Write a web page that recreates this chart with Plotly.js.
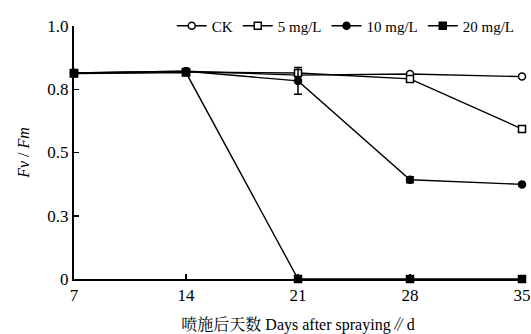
<!DOCTYPE html>
<html>
<head>
<meta charset="utf-8">
<script src="https://cdn.plot.ly/plotly-3.0.1.min.js"></script>
<style>html,body{margin:0;padding:0;background:#fff;}#chart{width:531px;height:334px;}</style>
</head>
<body>
<div id="chart"></div>
<script>
var days = [7, 14, 21, 28, 35];
var seriesNames = ["CK", "5 mg/L", "10 mg/L", "20 mg/L"];
var ck = [0.814, 0.821, 0.806, 0.810, 0.800];
var mg5 = [0.814, 0.818, 0.814, 0.791, 0.593];
var mg10 = [0.814, 0.821, 0.783, 0.392, 0.374];
var mg20 = [0.812, 0.816, 0, 0, 0];
var err10 = [0.004, 0.004, 0.053, 0.012, 0.006];
var yTickVals = [0, 0.25, 0.5, 0.75, 1.0];
var yTickText = ["0", "0.3", "0.5", "0.8", "1.0"];
var xTickVals = [7, 14, 21, 28, 35];

var fontFam = "'Liberation Serif', 'Noto Serif CJK SC', 'Noto Sans CJK SC', serif";
function tr(name, y, sym, fill, err) {
  var t = {
    x: days, y: y, name: name, type: 'scatter', mode: 'lines+markers',
    cliponaxis: false,
    line: {color: '#000', width: 1.4},
    marker: {symbol: sym, size: 7, color: fill, line: {color: '#000', width: 1.5}}
  };
  if (err) t.error_y = {type: 'data', array: err, visible: true, color: '#000', thickness: 1.5, width: 4};
  return t;
}
var data = [
  tr(seriesNames[0], ck, 'circle', '#fff'),
  tr(seriesNames[1], mg5, 'square', '#fff'),
  tr(seriesNames[2], mg10, 'circle', '#000', err10),
  tr(seriesNames[3], mg20, 'square', '#000')
];

var layout = {
  width: 531, height: 334,
  margin: {l: 74, r: 9, t: 16, b: 55},
  paper_bgcolor: '#fff', plot_bgcolor: '#fff',
  font: {family: fontFam, color: '#000', size: 16},
  showlegend: true,
  legend: {orientation: 'h', x: 0.995, xanchor: 'right', y: 1.0, yanchor: 'middle',
           font: {size: 15, family: fontFam}, bgcolor: 'rgba(0,0,0,0)', itemwidth: 30, tracegroupgap: 0},
  xaxis: {
    range: [7, 35], tickvals: xTickVals, ticktext: xTickVals.map(String),
    showgrid: false, zeroline: false, showline: true, linecolor: '#000', linewidth: 2,
    ticks: 'inside', ticklen: 5, tickwidth: 1.5, tickcolor: '#000',
    tickfont: {size: 17, family: fontFam},
    title: {text: '喷施后天数 Days after spraying∥d', font: {size: 16, family: fontFam}, standoff: 14}
  },
  yaxis: {
    range: [0, 1.0], tickvals: yTickVals, ticktext: yTickText,
    showgrid: false, zeroline: false, showline: true, linecolor: '#000', linewidth: 2,
    ticks: 'inside', ticklen: 5, tickwidth: 1.5, tickcolor: '#000',
    tickfont: {size: 17, family: fontFam},
    title: {text: '<i>Fv</i> / <i>Fm</i>', font: {size: 16, family: fontFam}, standoff: 14}
  }
};
Plotly.newPlot('chart', data, layout, {displayModeBar: false, staticPlot: true});
</script>
</body>
</html>
